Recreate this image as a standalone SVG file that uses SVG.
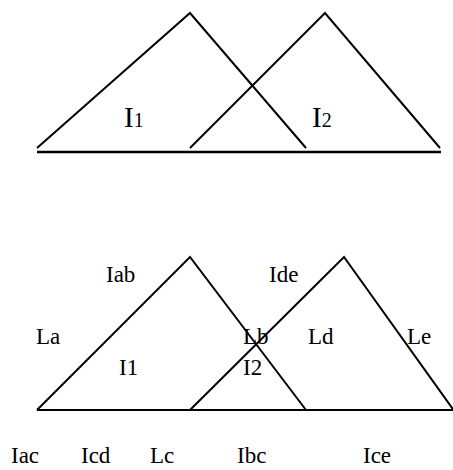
<svg xmlns="http://www.w3.org/2000/svg" width="453" height="470" viewBox="0 0 453 470">
<style>
.ln{fill:none;stroke:#000;stroke-width:2;stroke-linecap:butt;stroke-linejoin:miter}
.t{font-family:"Liberation Serif","Times New Roman",serif;fill:#000;font-size:23px}
.big{font-size:29px}
.sub{font-size:20px}
</style>
<rect width="453" height="470" fill="#fff"/>
<g id="connectors">
<polyline class="ln" points="37,148 190,13 306,148"/>
<polyline class="ln" points="190,148 325,13 440,148"/>
<line class="ln" x1="37" y1="152" x2="441" y2="152" style="stroke-width:2.5"/>
<polyline class="ln" points="37,410 190,257 306,410"/>
<polyline class="ln" points="190,410 344,257 455,412"/>
<line class="ln" x1="37" y1="410" x2="453" y2="410"/>
</g>
<g id="top-I1"><text class="t" x="124" y="127"><tspan class="big">I</tspan><tspan class="sub">1</tspan></text></g>
<g id="top-I2"><text class="t" x="312" y="127"><tspan class="big">I</tspan><tspan class="sub">2</tspan></text></g>
<g id="Iab"><text class="t" x="106" y="282">Iab</text></g>
<g id="Ide"><text class="t" x="269" y="282">Ide</text></g>
<g id="La"><text class="t" x="36" y="344">La</text></g>
<g id="Lb"><text class="t" x="243" y="344">Lb</text></g>
<g id="Ld"><text class="t" x="308" y="344">Ld</text></g>
<g id="Le"><text class="t" x="407" y="344">Le</text></g>
<g id="bot-I1"><text class="t" x="119" y="375">I1</text></g>
<g id="bot-I2"><text class="t" x="243" y="375">I2</text></g>
<g id="Iac"><text class="t" x="11" y="463">Iac</text></g>
<g id="Icd"><text class="t" x="81" y="463">Icd</text></g>
<g id="Lc"><text class="t" x="150" y="463">Lc</text></g>
<g id="Ibc"><text class="t" x="237" y="463">Ibc</text></g>
<g id="Ice"><text class="t" x="363" y="463">Ice</text></g>
</svg>
